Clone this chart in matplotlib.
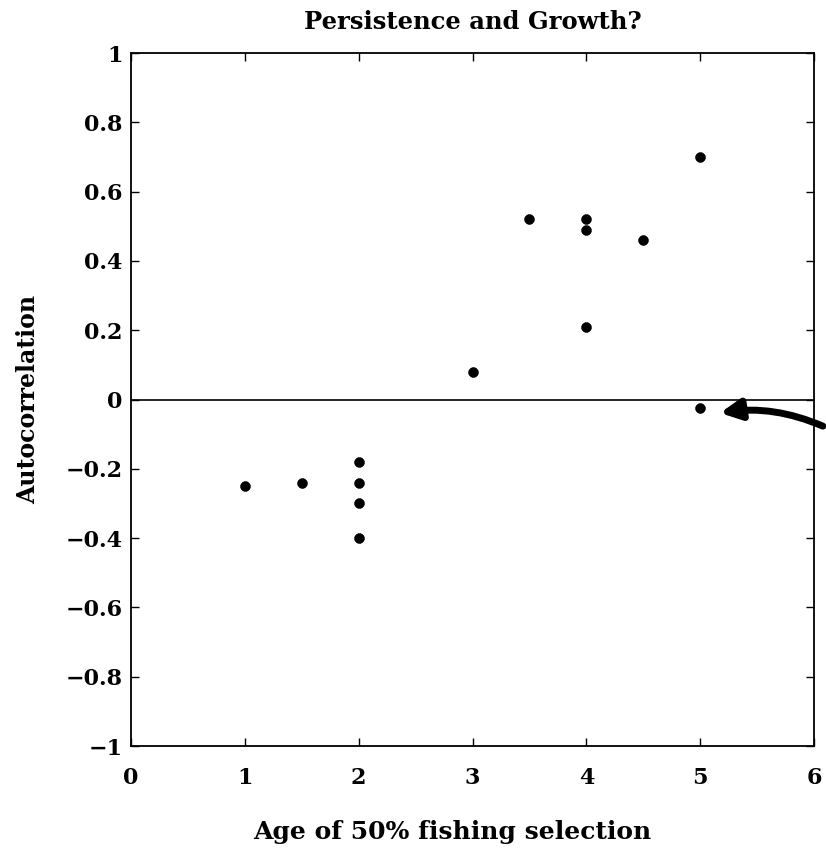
import matplotlib
matplotlib.use("Agg")
import matplotlib.pyplot as plt

# age of 50% fishing selection vs autocorrelation
ages = [1, 1.5, 2, 2, 2, 2, 3, 3.5, 4, 4, 4, 4.5, 5, 5]
autocorr = [-0.25, -0.24, -0.18, -0.24, -0.30, -0.40, 0.08,
            0.52, 0.52, 0.49, 0.21, 0.46, 0.70, -0.025]

x_ticks = [0, 1, 2, 3, 4, 5, 6]
y_ticks = [-1, -0.8, -0.6, -0.4, -0.2, 0, 0.2, 0.4, 0.6, 0.8, 1]
y_labels = ['\u22121', '\u22120.8', '\u22120.6', '\u22120.4', '\u22120.2', '0',
            '0.2', '0.4', '0.6', '0.8', '1']

plt.rcParams['font.family'] = ['DejaVu Serif']

fig = plt.figure(figsize=(8.26, 8.58), dpi=100)
ax = fig.add_axes([0.1586, 0.1305, 0.8269, 0.8077])

# asterisk blobs like the old printout
ax.plot(ages, autocorr, linestyle='none', marker=(8, 2, 0), color='black',
        markersize=7, markeredgewidth=2.6)
ax.axhline(0, color='black', linewidth=1.2)

ax.set_xlim(0, 6)
ax.set_ylim(-1, 1)
ax.set_xticks(x_ticks)
ax.set_yticks(y_ticks)
ax.set_yticklabels(y_labels)
ax.tick_params(direction='in', top=True, right=True, length=6, width=1,
               labelsize=16)
ax.tick_params(axis='x', pad=15)
ax.tick_params(axis='y', pad=6)
for lbl in ax.get_xticklabels() + ax.get_yticklabels():
    lbl.set_fontweight('bold')
for s in ax.spines.values():
    s.set_linewidth(1.3)

ax.set_title('Persistence and Growth?', fontsize=17.5, fontweight='bold', pad=17)
ax.set_xlabel('Age of 50% fishing selection', fontsize=18, fontweight='bold')
ax.xaxis.set_label_coords(0.471, -0.107)
ax.set_ylabel('Autocorrelation', fontsize=17, fontweight='bold', labelpad=18)

# the hand-drawn arrow pointing at the one point just below zero
ax.annotate('', xy=(5.15, -0.04), xytext=(6.1, -0.08), xycoords='data',
            textcoords='data', annotation_clip=False,
            arrowprops=dict(arrowstyle='-|>', color='black', lw=5,
                            mutation_scale=30,
                            connectionstyle='arc3,rad=0.15'))

fig.savefig('out.png', dpi=100)
